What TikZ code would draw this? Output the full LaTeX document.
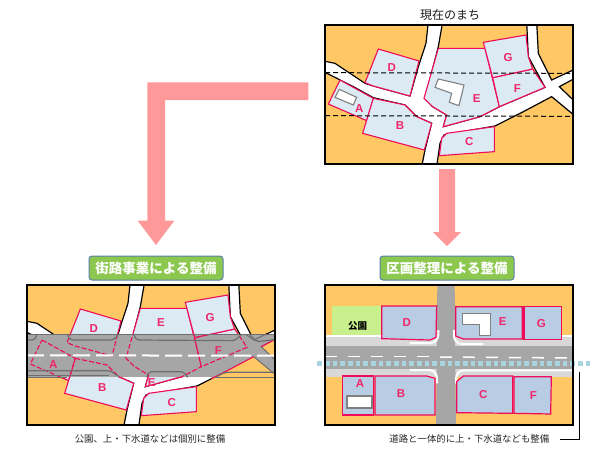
\documentclass[tikz,border=0pt]{standalone}
\usepackage{fontspec}
\setmainfont{Noto Sans CJK JP}
\newfontfamily\latinsf{Liberation Sans}
\definecolor{bgorange}{HTML}{FFC864}
\definecolor{paleblock}{HTML}{DCEBF3}
\definecolor{newblock}{HTML}{B8CCE4}
\definecolor{pinkline}{HTML}{F00A5A}
\definecolor{pinktext}{HTML}{F0266A}
\definecolor{arrowpink}{HTML}{FF9999}
\definecolor{roadgray}{HTML}{A6A6A6}
\definecolor{curbgray}{HTML}{6E6E6E}
\definecolor{walkgray}{HTML}{D8D8D8}
\definecolor{parkgreen}{HTML}{C8F08C}
\definecolor{titlegreen}{HTML}{8CC850}
\definecolor{titleedge}{HTML}{5B7FA8}
\definecolor{dotblue}{HTML}{A9D5E0}
\tikzset{
  panelframe/.style={draw=black,line width=1.7pt},
  roadshape/.style={fill=white,draw=black,line width=1.2pt},
  oldblock/.style={fill=paleblock,draw=pinkline,line width=1.1pt},
  newlot/.style={fill=newblock,draw=pinkline,line width=1.2pt},
  oldhouse/.style={fill=white,draw=gray,line width=1.1pt},
  lotlabel/.style={font=\latinsf\bfseries\fontsize{11.5}{12}\selectfont,text=pinktext,inner sep=0pt},
  titlebox/.style={rounded corners=3pt,fill=titlegreen,draw=titleedge,line width=1pt,minimum width=134pt,minimum height=24pt,inner sep=0pt,text=white,font=\bfseries\fontsize{13.5}{14}\selectfont},
  captiontext/.style={font=\fontsize{9.4}{10}\selectfont,inner sep=0pt,text=black!85},
  curb/.style={draw=curbgray,line width=1.2pt,rounded corners=2pt},
  bigarrow/.style={fill=arrowpink,draw=none}
}
\newcommand{\roadpath}{(355,65)--(398,65)--(385,140)--(345,295)--(368,320)--(410,345)--(400,380)--(510,350)--(568,320)--(705,262)--(655,170)--(650,65)--(680,65)--(685,160)--(725,240)--(800,205)--(800,232)--(748,260)--(800,310)--(800,352)--(725,290)--(640,335)--(555,378)--(402,405)--(390,430)--(380,500)--(335,500)--(345,450)--(365,370)--(320,350)--(285,315)--(190,293)--(130,260)--(35,212)--(35,182)--(75,190)--(165,250)--(190,258)--(300,288)--(325,200)--(348,130)--cycle}
\newcommand{\lotA}{(90,240)--(130,262)--(190,295)--(170,362)--(55,312)--cycle}
\newcommand{\lotB}{(190,295)--(285,315)--(320,350)--(365,370)--(343,450)--(158,400)--cycle}
\newcommand{\lotC}{(410,400)--(553,380)--(553,455)--(388,467)--(395,415)--cycle}
\newcommand{\lotD}{(205,147)--(327,183)--(300,288)--(190,258)--(165,248)--cycle}
\newcommand{\lotE}{(385,145)--(525,145)--(568,320)--(510,350)--(400,380)--(410,345)--(368,320)--(342,295)--cycle}
\newcommand{\lotF}{(548,233)--(668,207)--(705,262)--(568,320)--cycle}
\newcommand{\lotG}{(520,127)--(648,105)--(655,170)--(668,207)--(548,233)--cycle}
\newcommand{\basemap}{%
  \fill[bgorange] (45,75) rectangle (790,495);
  \draw[roadshape] \roadpath;
  \draw[oldblock] \lotA; \draw[oldblock] \lotB; \draw[oldblock] \lotC; \draw[oldblock] \lotD;
  \draw[oldblock] \lotE; \draw[oldblock] \lotF; \draw[oldblock] \lotG;
}
\begin{document}
\begin{tikzpicture}[x=1pt,y=-1pt]
\useasboundingbox (0,0) rectangle (614,453);
% existing town
\node[font=\fontsize{12}{12}\selectfont,inner sep=0pt,text=black!90] (titleNow) at (450,15) {現在のまち};
\begin{scope}[shift={(310,0)},scale=1/3]
  \begin{scope}
    \clip (45,75) rectangle (790,492);
    \basemap
    \draw[oldhouse] (88,268)--(140,292)--(130,315)--(75,292)--cycle;
    \draw[oldhouse] (385,237)--(462,255)--(447,317)--(418,307)--(425,280)--(375,262)--cycle;
    \draw[black,line width=1pt,dash pattern=on 5pt off 3pt] (45,218)--(790,220);
    \draw[black,line width=1pt,dash pattern=on 5pt off 3pt] (45,347)--(790,349);
  \end{scope}
  \draw[panelframe] (45,75) rectangle (790,492);
  \node[lotlabel] (a1) at (148,325) {A};
  \node[lotlabel] (b1) at (270,378) {B};
  \node[lotlabel] (c1) at (478,425) {C};
  \node[lotlabel] (d1) at (245,203) {D};
  \node[lotlabel] (e1) at (500,297) {E};
  \node[lotlabel] (f1) at (622,267) {F};
  \node[lotlabel] (g1) at (594,172) {G};
\end{scope}
% street project
\node[titlebox] (titleLeft) at (156,268) {街路事業による整備};
\begin{scope}[shift={(12,260)},scale=1/3]
  \begin{scope}
    \clip (45,75) rectangle (790,495);
    \basemap
    \fill[roadgray] (40,222) rectangle (795,352);
    % open ground left uncovered by the widened road
    \fill[bgorange] (800,232)--(748,260)--(800,310)--cycle;
    \fill[bgorange] (598,356)--(640,335)--(725,290)--(800,352)--(800,356)--cycle;
    \begin{scope}
      \clip (40,222) rectangle (795,356);
      \draw[curbgray,line width=1pt] (690,215)--(725,240)--(800,205) (800,232)--(748,260)--(800,310) (800,352)--(725,290);
      \draw[pinkline,line width=1.1pt] (725,290)--(640,335)--(598,356);
      \draw[pinkline,line width=1.1pt] (800,232)--(748,260);
      \foreach \p in {\lotA,\lotB,\lotD,\lotE,\lotF,\lotG}{
        \draw[pinkline,line width=1.1pt,dash pattern=on 5pt off 2pt] \p;
      }
    \end{scope}
    \draw[curbgray,line width=.8pt] (40,223)--(795,223);
    \draw[curbgray,line width=.8pt] (40,347)--(290,347) (40,353)--(165,353) (610,353)--(795,353);
    \draw[curb] (45,240)--(68,240)--(75,222);
    \draw[curb] (165,222)--(175,240)--(305,240)--(320,222);
    \draw[curb] (364,222)--(374,240)--(669,242)--(689,222);
    \draw[curb] (714,225)--(734,245)--(795,238);
    \draw[curb] (40,332)--(294,332)--(321,350);
    \draw[curb] (404,352)--(411,335)--(514,335)--(527,352);
    \draw[curb] (614,350)--(639,337)--(795,337);
    \draw[white,line width=2pt,dash pattern=on 17pt off 6pt] (45,286)--(790,287);
  \end{scope}
  \draw[panelframe] (45,75) rectangle (790,495);
\end{scope}
\begin{scope}[shift={(15,250)},scale=1/3]
  \node[lotlabel] (a2) at (115,343) {A};
  \node[lotlabel] (b2) at (262,412) {B};
  \node[lotlabel] (c2) at (470,458) {C};
  \node[lotlabel] (d2) at (236,237) {D};
  \node[lotlabel] (e2) at (438,218) {E};
  \node[lotlabel] (e3) at (410,397) {E};
  \node[lotlabel] (f2) at (610,302) {F};
  \node[lotlabel] (g2) at (585,202) {G};
  \node[captiontext] (capLeft) at (405,568) {公園、上・下水道などは個別に整備};
\end{scope}
% land readjustment
\node[titlebox] (titleRight) at (447,268) {区画整理による整備};
\begin{scope}[shift={(310,250)},scale=1/3]
  \begin{scope}
    \clip (45,105) rectangle (790,525);
    \fill[bgorange] (45,105) rectangle (790,525);
    \fill[parkgreen] (65,167) rectangle (212,272);
    \fill[white] (45,256) rectangle (790,262);
    \fill[walkgray] (45,262) rectangle (790,290);
    \fill[walkgray] (45,358) rectangle (790,380);
    \fill[roadgray] (45,288) rectangle (790,358);
    \fill[roadgray] (382,100) -- (434,100) -- (438,530) -- (378,530) -- cycle;
    \draw[white,line width=2pt,rounded corners=8pt] (385,240)--(385,279)--(300,279);
    \draw[white,line width=2pt,rounded corners=8pt] (432,240)--(432,282)--(520,282);
    \draw[white,line width=2pt,rounded corners=8pt] (381,400)--(381,360)--(300,360);
    \draw[white,line width=2pt,rounded corners=8pt] (438,400)--(438,361)--(790,361);
    \draw[white,line width=1.5pt,dash pattern=on 12pt off 11pt] (45,319)--(382,319);
    \draw[white,line width=1.5pt,dash pattern=on 12pt off 11pt] (390,321)--(790,324);
    \draw[newlot] (215,168)--(380,168)--(378,262)--(360,270)--(215,266)--cycle;
    \draw[newlot] (437,170)--(637,170)--(637,267)--(460,267)--(437,258)--cycle;
    \draw[newlot] (642,170)--(755,170)--(755,268)--(642,268)--cycle;
    \draw[newlot] (98,378)--(190,378)--(190,495)--(98,495)--cycle;
    \draw[newlot] (195,378)--(350,378)--(375,385)--(375,495)--(195,495)--cycle;
    \draw[newlot] (440,395)--(460,378)--(608,378)--(608,490)--(440,488)--cycle;
    \draw[newlot] (612,380)--(724,380)--(722,492)--(612,490)--cycle;
    \draw[fill=white,draw=gray,line width=1.8pt] (110,437) rectangle (185,475);
    \draw[fill=white,draw=gray,line width=1pt] (458,190)--(542,190)--(542,257)--(508,257)--(508,223)--(458,223)--cycle;
  \end{scope}
  \foreach \i in {0,...,35}{
    \fill[dotblue] ({22+\i*23},333) rectangle ++(14,14);
  }
  \draw[panelframe] (45,105) rectangle (790,525);
  \node[inner sep=0pt,font=\fontsize{9.5}{10}\selectfont\bfseries,text=black] (park) at (143,228) {公園};
  \node[lotlabel] (a3) at (150,402) {A};
  \node[lotlabel] (b3) at (273,432) {B};
  \node[lotlabel] (c3) at (520,435) {C};
  \node[lotlabel] (d3) at (290,218) {D};
  \node[lotlabel] (e4) at (578,215) {E};
  \node[lotlabel] (f3) at (670,438) {F};
  \node[lotlabel] (g3) at (694,222) {G};
  \node[captiontext] (capRight) at (478,568) {道路と一体的に上・下水道なども整備};
  \coordinate (leadTop) at (808,365);
  \coordinate (leadCorner) at (808,568);
  \coordinate (leadEnd) at (750,568);
  \draw[black,line width=.7pt] (leadTop)--(leadCorner)--(leadEnd);
\end{scope}
% arrows
\fill[bigarrow] (308.3,82.3)--(147.3,82.3)--(147.3,220.7)--(137.7,220.7)--(156,245)--(174.3,220.7)--(165,220.7)--(165,100)--(308.3,100)--cycle;
\fill[bigarrow] (439,169)--(455,169)--(455,232)--(461,232)--(447,246)--(433,232)--(439,232)--cycle;
\end{tikzpicture}
\end{document}
